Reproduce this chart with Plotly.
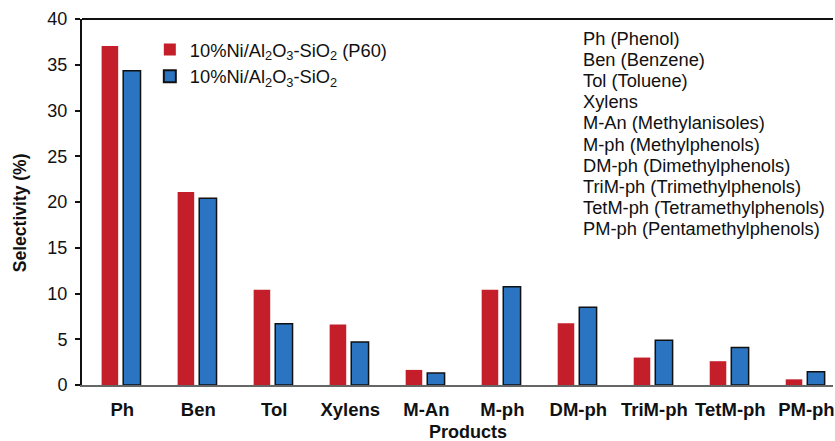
import plotly.graph_objects as go

categories = ["Ph", "Ben", "Tol", "Xylens", "M-An", "M-ph", "DM-ph", "TriM-ph", "TetM-ph", "PM-ph"]
p60_values = [37.05, 21.1, 10.4, 6.6, 1.65, 10.4, 6.75, 3.0, 2.6, 0.62]
base_values = [34.35, 20.4, 6.7, 4.7, 1.3, 10.75, 8.5, 4.9, 4.1, 1.45]
y_ticks = [0, 5, 10, 15, 20, 25, 30, 35, 40]
legend_names = ["10%Ni/Al<sub>2</sub>O<sub>3</sub>-SiO<sub>2</sub> (P60)",
                "10%Ni/Al<sub>2</sub>O<sub>3</sub>-SiO<sub>2</sub>"]
abbrev_lines = ["Ph (Phenol)", "Ben (Benzene)", "Tol (Toluene)", "Xylens",
                "M-An (Methylanisoles)", "M-ph (Methylphenols)", "DM-ph (Dimethylphenols)",
                "TriM-ph (Trimethylphenols)", "TetM-ph (Tetramethylphenols)",
                "PM-ph (Pentamethylphenols)"]

FONT = "Arial, Liberation Sans, sans-serif"
RED = "#C41E2A"
BLUE = "#2B74C1"
INK = "#111111"

L, R, T, B = 82, 835, 19, 385
PW, PH = R - L, B - T


def px(xp):
    return (xp - L) / PW


def py(yp):
    return (B - yp) / PH


fig = go.Figure()
fig.add_trace(go.Bar(x=categories, y=p60_values, name=legend_names[0],
                     width=0.218, offset=-0.272,
                     marker=dict(color=RED, line=dict(color=RED, width=0))))
fig.add_trace(go.Bar(x=categories, y=base_values, name=legend_names[1],
                     width=0.228, offset=0.012,
                     marker=dict(color=BLUE, line=dict(color=INK, width=1.5))))

for i, line in enumerate(abbrev_lines):
    fig.add_annotation(
        text=line, xref="paper", yref="paper",
        x=px(582), y=py(38.5 + 21.1 * i), xanchor="left", yanchor="middle",
        align="left", showarrow=False, font=dict(family=FONT, size=18.3, color=INK))

fig.add_annotation(
    text="<b>Products</b>", xref="paper", yref="paper",
    x=px(469), y=py(432), xanchor="center", yanchor="middle",
    showarrow=False, font=dict(family=FONT, size=18, color=INK))

fig.add_annotation(
    text="<b>Selectivity (%)</b>", xref="paper", yref="paper", textangle=-90,
    x=px(20), y=py(213), xanchor="center", yanchor="middle",
    showarrow=False, font=dict(family=FONT, size=17.5, color=INK))

fig.add_shape(type="line", xref="paper", yref="paper", x0=0, x1=1, y0=1, y1=1,
              line=dict(color=INK, width=2))

fig.update_layout(
    width=835, height=441,
    margin=dict(l=L, r=0, t=T, b=441 - B),
    paper_bgcolor="white", plot_bgcolor="white",
    barmode="overlay",
    font=dict(family=FONT, color=INK),
    showlegend=True,
    legend=dict(x=px(150), y=py(31), xanchor="left", yanchor="top",
                bgcolor="rgba(0,0,0,0)", font=dict(family=FONT, size=18.3, color=INK),
                tracegroupgap=0, itemsizing="constant"),
    xaxis=dict(type="category", range=[-0.53, 9.35], showgrid=False,
               showline=True, linecolor="#666666", linewidth=2,
               ticks="", tickfont=dict(family=FONT, size=18.5, color=INK),
               ticklabelstandoff=7,
               tickprefix="<b>", ticksuffix="</b>"),
    yaxis=dict(range=[0, 40], tickvals=y_ticks, showgrid=False, zeroline=False,
               showline=True, linecolor=INK, linewidth=2,
               ticks="outside", ticklen=5, tickcolor=INK, tickwidth=1.5,
               tickfont=dict(family=FONT, size=18, color=INK),
               ticklabelstandoff=4,
               tickprefix="<b>", ticksuffix="</b>"),
)

fig.write_html("out.html")
